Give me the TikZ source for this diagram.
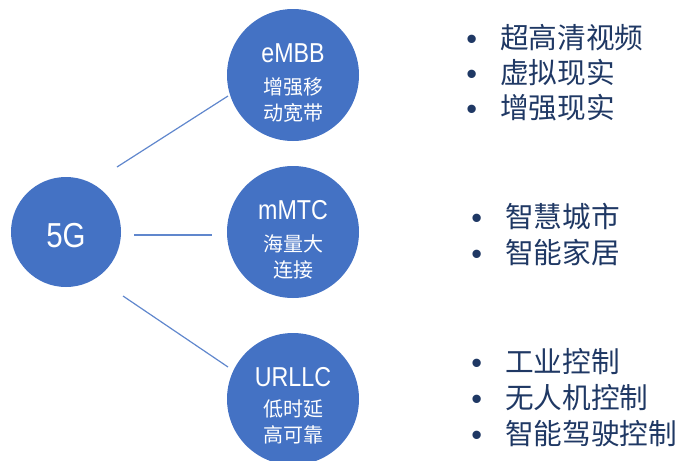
\documentclass[tikz,border=0pt]{standalone}
\usepackage{fontspec}
\setmainfont{Liberation Sans}
\newfontfamily\cjk{Noto Sans CJK SC}
\newfontfamily\lab[FakeStretch=0.85]{Liberation Sans}
\newfontfamily\bul{Liberation Sans}
\definecolor{cblue}{HTML}{4472C4}
\definecolor{navy}{HTML}{1F3864}
\newcommand{\bitem}[1]{\makebox[25.5pt][l]{\raisebox{-0.5pt}{\bul\fontsize{23}{24}\selectfont •}}#1}
\begin{document}
\begin{tikzpicture}[x=0.75pt,y=-0.75pt,
  hub/.style={circle,fill=cblue,draw=none,minimum size=82.5pt,inner sep=0pt},
  big/.style={circle,fill=cblue,draw=none,minimum size=99pt,inner sep=0pt},
  title/.style={text=white,inner sep=0pt,font=\lab\fontsize{20.5}{22}\selectfont},
  sub/.style={text=white,inner sep=0pt,align=center,font=\cjk\fontsize{15}{19.5}\selectfont},
  link/.style={draw=cblue!85,line width=0.9pt},
  item/.style={anchor=west,text=navy,inner sep=0pt,font=\cjk\fontsize{21.5}{26}\selectfont}]
\useasboundingbox (0,0) rectangle (683,461);
% circles
\node[hub] (g) at (66,232) {};
\node[text=white,inner sep=0pt,font=\lab\fontsize{26}{30}\selectfont] (gt) at (66,236) {5G};
\node[big] (e) at (293,75) {};
\node[big] (m) at (293,232) {};
\node[big] (u) at (293,399) {};
\node[title] (et) at (293,53) {eMBB};
\node[sub] (es) at (293,100) {增强移\\动宽带};
\node[title] (mt) at (293,210) {mMTC};
\node[sub] (ms) at (293,257) {海量大\\连接};
\node[title] (ut) at (293,377) {URLLC};
\node[sub] (us) at (293,422) {低时延\\高可靠};
% connector ends
\coordinate (a1) at (117,167); \coordinate (a2) at (228,96);
\coordinate (b1) at (134,235); \coordinate (b2) at (212,235);
\coordinate (c1) at (123,296); \coordinate (c2) at (228,367);
\draw[link] (a1) -- (a2);
\draw[link] (b1) -- (b2);
\draw[link] (c1) -- (c2);
% lists
\node[item] (l1) at (466,38) {\bitem{超高清视频}};
\node[item] (l2) at (466,73) {\bitem{虚拟现实}};
\node[item] (l3) at (466,108) {\bitem{增强现实}};
\node[item] (l4) at (471,217) {\bitem{智慧城市}};
\node[item] (l5) at (471,253) {\bitem{智能家居}};
\node[item] (l6) at (471,362) {\bitem{工业控制}};
\node[item] (l7) at (471,398) {\bitem{无人机控制}};
\node[item] (l8) at (471,434) {\bitem{智能驾驶控制}};
\end{tikzpicture}
\end{document}
